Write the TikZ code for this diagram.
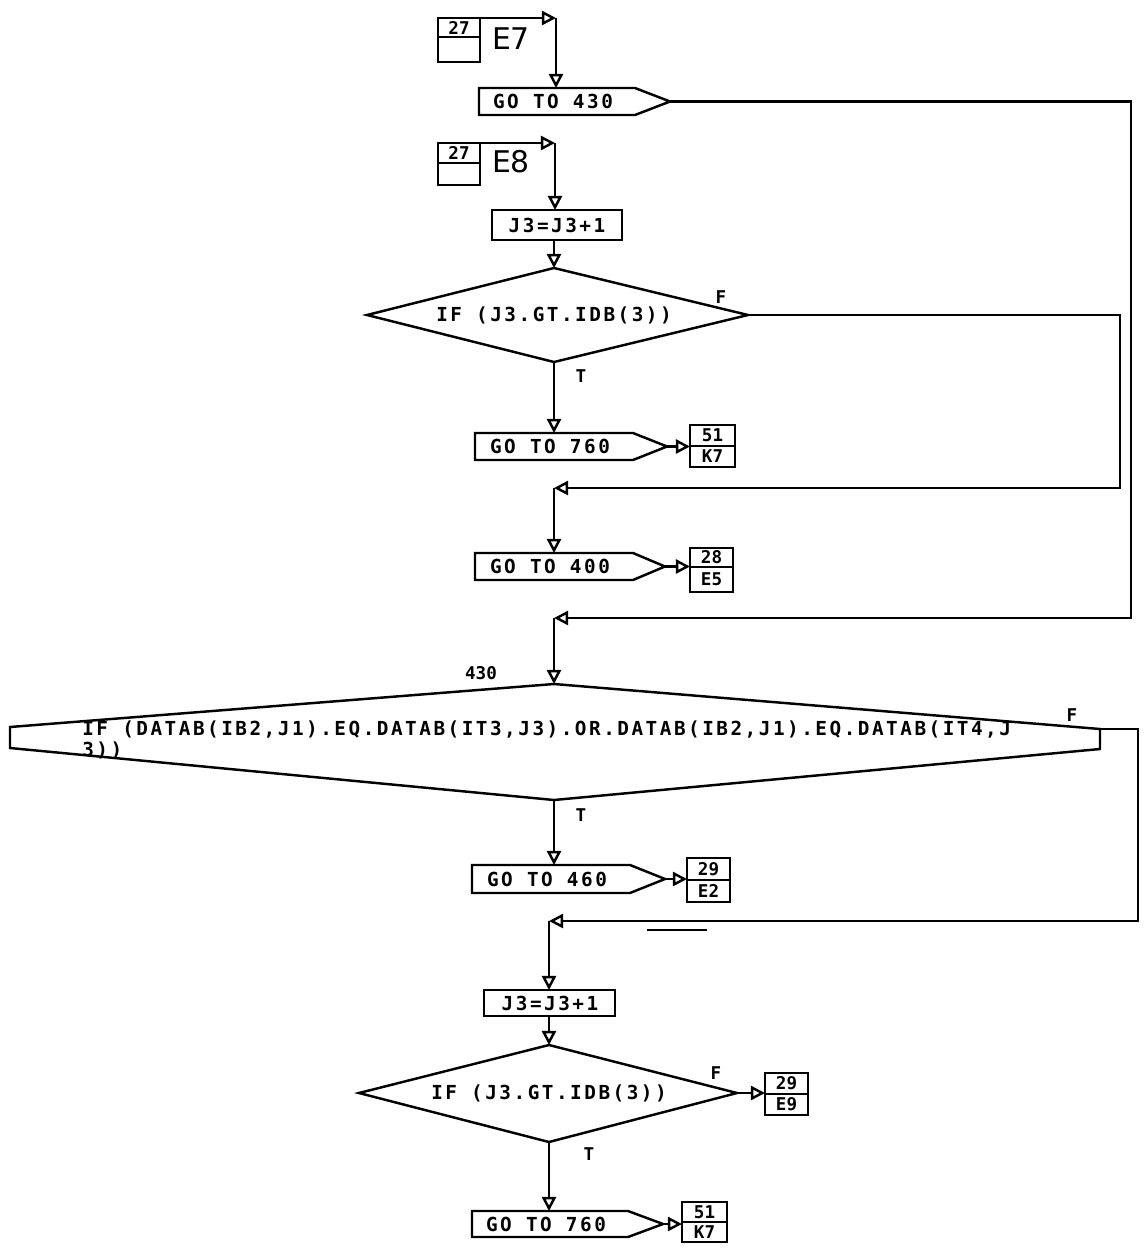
\documentclass[tikz,border=0pt]{standalone}
\usepackage{fontspec}
\newfontfamily\dotfont[LetterSpace=13]{DejaVu Sans Mono}
\newfontfamily\boxfont{DejaVu Sans Mono}
\newfontfamily\labfont{DejaVu Sans}
\usetikzlibrary{arrows.meta}

\tikzset{
  ln/.style={line width=1.4pt, line join=miter},
  arr/.style={ln, -{Triangle[open, length=8pt, width=8pt]}},
  txt/.style={font=\dotfont\bfseries\fontsize{11}{11}\selectfont, inner sep=0pt},
  sm/.style={font=\boxfont\bfseries\fontsize{10}{10}\selectfont, inner sep=0pt},
  big/.style={font=\labfont\fontsize{17}{17}\selectfont, inner sep=0pt}
}

% connector box: name, x1, y1, x2, y2, ydiv, top text, bottom text
\newcommand\cbox[8]{%
  \draw[ln] (#2,#3) rectangle (#4,#5);
  \draw[ln] (#2,#6) -- (#4,#6);
  \node[sm] (#1a) at ({(#2+#4)/2},{(#3+#6)/2}) {#7};
  \node[sm] (#1b) at ({(#2+#4)/2},{(#6+#5)/2}) {#8};
  \coordinate (#1w) at (#2,#6);
  \coordinate (#1ne) at (#4,#3);
}
% go-to box: name, left, top, bottom, flat right, tip x, text
\newcommand\gobox[7]{%
  \draw[ln] (#2,#3) -- (#5,#3) -- (#6,{(#3+#4)/2}) -- (#5,#4) -- (#2,#4) -- cycle;
  \node[txt] (#1) at ({(#2+#5)/2-4},{(#3+#4)/2}) {#7};
  \coordinate (#1tip) at (#6,{(#3+#4)/2});
}

\begin{document}
\begin{tikzpicture}[x=0.02cm, y=-0.02cm]
\useasboundingbox (0,0) rectangle (1144,1258);

% ---- entry E7
\cbox{a1}{438}{18}{480}{62}{37}{27}{}
\node[big] (e7) at (511,39) {E7};
\coordinate (k1) at (556,18);
\gobox{g430}{479}{88}{115}{635}{670}{GO TO 430}
\coordinate (g430top) at (556,88);
\draw[arr] (a1ne) -- (k1);
\draw[arr] (k1) -- (g430top);

% ---- entry E8
\cbox{a2}{438}{143}{480}{185}{163}{27}{}
\node[big] (e8) at (511,162) {E8};
\coordinate (k2) at (555,143);
\draw[ln] (492,210) rectangle (622,240);
\node[txt] (j3a) at (557,225) {J3=J3+1};
\coordinate (j3atop) at (555,210);
\coordinate (j3abot) at (554,240);
\draw[arr] (a2ne) -- (k2);
\draw[arr] (k2) -- (j3atop);

% ---- decision 1
\coordinate (d1n) at (554,268);
\coordinate (d1e) at (748,315);
\coordinate (d1s) at (554,362);
\coordinate (d1w) at (367,315);
\draw[ln] (d1n) -- (d1e) -- (d1s) -- (d1w) -- cycle;
\node[txt] (d1t) at (554,315) {IF (J3.GT.IDB(3))};
\node[sm] (d1f) at (721,297) {F};
\node[sm] (d1tl) at (581,376) {T};
\draw[arr] (j3abot) -- (d1n);

% ---- GO TO 760 (1)
\gobox{g760a}{475}{433}{460}{633}{667}{GO TO 760}
\coordinate (g760atop) at (554,433);
\cbox{c1}{690}{425}{735}{467}{446}{51}{K7}
\draw[arr] (d1s) -- (g760atop);
\draw[arr] (g760atip) -- (g760atip -| c1w);

% ---- loop from decision 1 (F)
\coordinate (r2) at (1120,488);
\coordinate (j2) at (554,488);
\draw[arr] (d1e) -| (r2) -- (j2);

% ---- GO TO 400
\gobox{g400}{475}{553}{580}{633}{665}{GO TO 400}
\coordinate (g400top) at (554,553);
\cbox{c2}{690}{548}{733}{592}{567}{28}{E5}
\draw[arr] (j2) -- (g400top);
\draw[arr] (g400tip) -- (g400tip -| c2w);

% ---- loop from GO TO 430
\coordinate (r1) at (1131,618);
\coordinate (j1) at (554,618);
\draw[arr] (g430tip) -| (r1) -- (j1);

% ---- decision 430
\coordinate (d3n) at (554,684);
\coordinate (d3e) at (1100,729);
\coordinate (d3s) at (554,800);
\coordinate (d3w) at (10,727);
\draw[ln] (d3w) -- (d3n) -- (d3e) -- (1100,749) -- (d3s) -- (10,748) -- cycle;
\node[sm] (l430) at (481,673) {430};
\node[txt, anchor=west] (d3t1) at (82,730) {IF (DATAB(IB2,J1).EQ.DATAB(IT3,J3).OR.DATAB(IB2,J1).EQ.DATAB(IT4,J};
\node[txt, anchor=west] (d3t2) at (82,750) {3))};
\node[sm] (d3f) at (1072,715) {F};
\node[sm] (d3tl) at (581,815) {T};
\draw[arr] (j1) -- (d3n);

% ---- GO TO 460
\gobox{g460}{472}{865}{893}{630}{665}{GO TO 460}
\coordinate (g460top) at (554,865);
\cbox{c3}{687}{858}{730}{902}{880}{29}{E2}
\draw[arr] (d3s) -- (g460top);
\draw[arr] (g460tip) -- (g460tip -| c3w);
\draw[line width=0.8pt] (647,930) -- (707,930);

% ---- loop from decision 430 (F)
\coordinate (r3) at (1138,921);
\coordinate (j3) at (549,921);
\draw[arr] (d3e) -| (r3) -- (j3);

% ---- J3=J3+1 (2)
\draw[ln] (484,990) rectangle (615,1016);
\node[txt] (j3b) at (550,1003) {J3=J3+1};
\coordinate (j3btop) at (549,990);
\coordinate (j3bbot) at (549,1016);
\draw[arr] (j3) -- (j3btop);

% ---- decision 2
\coordinate (d2n) at (549,1045);
\coordinate (d2e) at (737,1093);
\coordinate (d2s) at (549,1142);
\coordinate (d2w) at (359,1093);
\draw[ln] (d2n) -- (d2e) -- (d2s) -- (d2w) -- cycle;
\node[txt] (d2t) at (549,1093) {IF (J3.GT.IDB(3))};
\node[sm] (d2f) at (716,1073) {F};
\node[sm] (d2tl) at (589,1154) {T};
\draw[arr] (j3bbot) -- (d2n);
\cbox{c4}{765}{1073}{808}{1115}{1094}{29}{E9}
\draw[arr] (d2e) -- (d2e -| c4w);

% ---- GO TO 760 (2)
\gobox{g760b}{472}{1211}{1237}{628}{663}{GO TO 760}
\coordinate (g760btop) at (549,1211);
\cbox{c5}{682}{1202}{727}{1242}{1222}{51}{K7}
\draw[arr] (d2s) -- (g760btop);
\draw[arr] (g760btip) -- (g760btip -| c5w);
\end{tikzpicture}
\end{document}
